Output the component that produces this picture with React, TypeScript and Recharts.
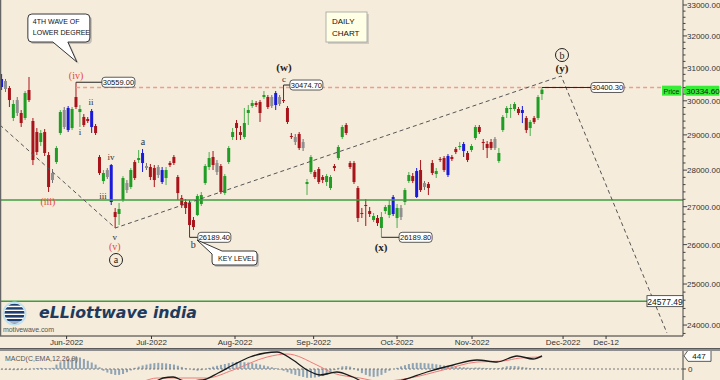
import React from "react";
import { ComposedChart, Bar, Line, XAxis, YAxis, ReferenceLine, ReferenceDot } from "recharts";

const BG = "#F5ECDB";
const SANS = "Liberation Sans, Arial, sans-serif";
const SERIF = "Liberation Serif, Times New Roman, serif";

// daily candles, left to right (index = bar number)
const opens = [
  30415, 30597, 30384, 29491, 30023, 29638, 29491, 30324, 29403, 29082,
  28795, 29082, 28424, 27920, 28227, 29054, 29726, 29140, 29198, 30113,
  29667, 29520, 29461, 29228, 29257, 28368, 27698, 28003, 28143, 26857,
  26804, 27180, 27643, 27533, 28227, 28283, 28199, 28115, 28087, 28059,
  28087, 27671, 27781, 28199, 28368, 27809, 27234, 27126, 27099, 26644,
  26777, 27072, 27643, 28087, 28368, 28199, 28115, 27369, 28227, 28938,
  29344, 29082, 28938, 29638, 29845, 29934, 29964, 30113, 30113, 30113,
  29875, 30113, 30023, 29786, 28967, 28938, 29025, 28795, 27616, 27948,
  27948, 28031, 27809, 27671, 27506, 28115, 28339, 28938, 29286, 28199,
  28199, 27506, 26831, 27045, 26884, 26644, 26697, 26433, 26884, 26777,
  26804, 26697, 26965, 27126, 27698, 27836, 27975, 28003, 27643, 27616,
  28199, 27892, 28311, 28339, 27864, 28368, 28595, 28652, 28538, 28481,
  28566, 28910, 29228, 28795, 28738, 28795, 28881, 28255, 29140, 29638,
  29756, 29756, 29756, 29638, 29491, 29198, 29491, 29491, 30203,
];
const highs = [
  30811, 30658, 30445, 30023, 30113, 29726, 30294, 30719, 29491, 29198,
  29140, 29169, 28509, 28031, 28680, 29726, 29815, 29845, 29815, 30559,
  29875, 29608, 29520, 29756, 29315, 28424, 28003, 28059, 28171, 26965,
  27099, 27836, 27726, 28059, 28283, 28566, 28595, 28199, 28171, 28143,
  28143, 28087, 28087, 28255, 28424, 27864, 27315, 27207, 27180, 26724,
  27342, 27397, 28171, 28509, 28538, 28283, 28171, 27892, 28680, 29198,
  29432, 29257, 29786, 29875, 30023, 29993, 30023, 30294, 30173, 30173,
  30294, 30173, 30474.7, 29845, 29054, 29025, 29082, 28881, 27754, 28424,
  28003, 28087, 27864, 27892, 27864, 28171, 28709, 29286, 29344, 28255,
  28255, 27561, 26965, 27207, 26991, 26831, 26777, 26857, 27045, 27180,
  27315, 27072, 27045, 27506, 27948, 27920, 28059, 28283, 27698, 27671,
  28283, 28059, 28368, 28396, 28452, 28424, 28652, 28795, 28795, 28538,
  28738, 29286, 29286, 28881, 28823, 28881, 28938, 28623, 29579, 29845,
  29905, 29964, 29815, 29845, 29550, 29432, 29550, 30173, 30400.3,
];
const lows = [
  30324, 30263, 29815, 29403, 29550, 29228, 29432, 29964, 28143, 28424,
  28680, 28396, 27397, 27643, 28171, 28996, 29169, 29082, 29140, 29756,
  29228, 29228, 29344, 29054, 28996, 27864, 27616, 27754, 27045, 26433,
  26512, 27126, 27369, 27478, 27726, 28199, 27948, 28003, 27726, 27533,
  27781, 27616, 27588, 28087, 28143, 27180, 26965, 26804, 26189.4, 26380,
  26750, 27018, 27588, 28003, 28003, 27864, 27342, 27315, 28171, 28852,
  28852, 28852, 28881, 29286, 29786, 29815, 29374, 30053, 29756, 29786,
  29726, 29845, 29934, 29315, 28881, 28709, 28566, 28538, 27315, 27892,
  27754, 27616, 27643, 27561, 27451, 27975, 28283, 28881, 28996, 28031,
  27616, 26591, 26697, 26486, 26724, 26591, 26486, 26189.8, 26804, 26697,
  26750, 26433, 26644, 27045, 27643, 27643, 27234, 27397, 27451, 27315,
  27864, 27781, 28227, 27948, 27809, 28255, 28452, 28566, 28368, 28227,
  28509, 28852, 29025, 28566, 28339, 28566, 28566, 28199, 29082, 29491,
  29491, 29697, 29579, 29344, 29054, 28967, 29315, 29432, 30023,
];
const closes = [
  30658, 30354, 30023, 29905, 29638, 29344, 30233, 30023, 28283, 28509,
  29054, 28481, 27533, 27726, 28623, 29667, 29228, 29786, 29756, 29815,
  29756, 29286, 29403, 29697, 29054, 27920, 27920, 27809, 27126, 26724,
  26938, 27781, 27451, 28003, 27781, 28339, 28481, 28059, 27809, 27726,
  27864, 28003, 28003, 28143, 28199, 27369, 27045, 26965, 26512, 26459,
  27288, 27315, 28115, 28339, 28143, 27948, 27397, 27836, 28623, 29082,
  29198, 28996, 29344, 29726, 29934, 29875, 29638, 30173, 29815, 29845,
  30233, 29905, 29993, 29374, 28938, 28795, 28623, 28623, 27671, 28368,
  27809, 27671, 27726, 27836, 27809, 28059, 28652, 29228, 29054, 28087,
  27671, 26697, 26804, 27018, 26804, 26750, 26565, 26724, 26991, 27045,
  27261, 26965, 26724, 27451, 27864, 27698, 27261, 27451, 27533, 27506,
  27920, 27975, 28283, 28003, 28396, 28311, 28509, 28680, 28738, 28283,
  28680, 29228, 29082, 28766, 28623, 28623, 28623, 28481, 29520, 29786,
  29786, 29905, 29638, 29726, 29140, 29374, 29374, 30113, 30334.6,
];
// bar type: g up, r down, b blue bar, k grey bar
const kinds = [
  "b", "k", "r", "g", "k", "r", "g", "r", "r", "r",
  "g", "r", "r", "k", "g", "g", "k", "b", "g", "r",
  "g", "r", "r", "b", "r", "r", "g", "k", "b", "r",
  "g", "g", "k", "g", "r", "g", "b", "k", "r", "r",
  "k", "b", "g", "r", "r", "r", "r", "r", "r", "r",
  "g", "g", "g", "g", "r", "k", "r", "g", "g", "g",
  "r", "r", "g", "g", "g", "r", "r", "g", "r", "k",
  "b", "k", "r", "r", "r", "k", "r", "k", "g", "g",
  "r", "r", "r", "g", "g", "r", "g", "g", "r", "r",
  "r", "r", "r", "r", "r", "g", "r", "g", "g", "g",
  "b", "g", "k", "g", "g", "r", "b", "r", "k", "r",
  "r", "g", "r", "r", "b", "r", "r", "g", "b", "r",
  "g", "g", "r", "r", "r", "r", "k", "g", "g", "g",
  "g", "g", "r", "b", "r", "g", "r", "g", "g",
];

// MACD(12,26,9) histogram, one value per bar
const histogram = [
  -20, -30, -30, -40, -40, -30, -30, -20, 10, 30,
  40, 30, 20, 40, 150, 230, 300, 340, 370, 400,
  390, 340, 280, 220, 150, 60, -60, -120, -170, -200,
  -200, -170, -110, -50, 40, 80, 120, 150, 180, 200,
  210, 200, 190, 170, 150, 110, 70, 30, 0, -40,
  -60, -40, -10, 40, 80, 110, 140, 170, 200, 230,
  240, 240, 230, 220, 200, 180, 150, 120, 90, 60,
  30, -20, -60, -110, -160, -200, -240, -270, -300, -300,
  -290, -270, -240, -200, -100, -40, 40, 90, 100, 80,
  30, -60, -140, -200, -250, -270, -250, -200, -130, -60,
  0, 40, 90, 130, 170, 200, 210, 210, 200, 190,
  180, 160, 140, 120, 110, 90, 80, 70, 60, 50,
  40, 50, 50, 40, 30, 20, 20, 30, 60, 90,
  100, 100, 90, 70, 50, 30, 20, 20, 30,
];
const macdIdx = [0, 8, 16, 24, 30, 36, 40, 41.2, 43.8, 46.8, 51.4, 55.3, 59.1, 63.4, 67.3, 70.3, 74.4, 78, 81.3, 85.6, 89.7, 94.1, 99.2, 102.5, 108.6, 115.3, 121.4, 126.5, 131.6, 135.7, 138];
const macdVals = [-420, -520, -640, -700, -720, -560, -380, -306, -272, -408, -374, -136, 136, 408, 544, 578, 306, -34, -204, -102, -272, -520, -480, -374, -102, 136, 306, 238, 442, 340, 447];
const signalIdx = [0, 12, 22, 30, 36, 39.7, 47.3, 52.4, 59.1, 67.8, 72.9, 80.5, 84.6, 91.5, 96.6, 104.3, 112.7, 121.4, 128, 132.4, 138];
const signalVals = [-450, -520, -600, -600, -420, -306, -306, -306, -34, 408, 510, 136, -136, -306, -420, -306, -34, 238, 272, 374, 408];

// projected wave path (dashed)
const pathIdx = [-0.43, 29, 142.9, 169.9];
const pathVals = [29286, 26433, 30750, 23810];

const monthTicks = [16.58, 38.26, 59.59, 79.67, 100.97, 120.12, 143.37, 154.35];
const monthLabels = ["Jun-2022", "Jul-2022", "Aug-2022", "Sep-2022", "Oct-2022", "Nov-2022", "Dec-2022", "Dec-12"];
const priceTicks = [24000, 25000, 26000, 27000, 28000, 29000, 30000, 31000, 32000, 33000];

const supportLevel = 27180;
const targetLevel = 24577.49;
const yTop = 30400.3;
const lastClose = 30334.6;
const macdLast = 447;

const X_DOMAIN: [number, number] = [-0.43, 174];
const Y_DOMAIN: [number, number] = [23740, 33165];

const minorTicks: number[] = [];
for (let v = 23800; v <= 33000; v += 200) minorTicks.push(v);

const candles = opens.map((o, i) => ({
  i,
  o,
  h: highs[i],
  l: lows[i],
  c: closes[i],
  k: kinds[i],
  range: [lows[i], highs[i]],
  hist: histogram[i],
}));
const macdData = macdIdx.map((i, n) => ({ i, v: macdVals[n] }));
const signalData = signalIdx.map((i, n) => ({ i, v: signalVals[n] }));
const pathData = pathIdx.map((i, n) => ({ i, v: pathVals[n] }));

const BODY: Record<string, string> = { g: "#1F9D24", r: "#A8141A", b: "#1A1ADB", k: "#8F8F8F" };
const WICK: Record<string, string> = { g: "#4DAE4D", r: "#A8141A", b: "#1A1ADB", k: "#6F6F6F" };

function Candle(props: any) {
  const { x, y, width, height, payload } = props;
  if (x == null || payload == null) return null;
  const { o, h, l, c, k } = payload;
  const top = Math.min(y, y + height);
  const hgt = Math.abs(height);
  const lh = Math.log(h);
  const span = lh - Math.log(l);
  const toY = (v: number) => (span === 0 ? top : top + (hgt * (lh - Math.log(v))) / span);
  const cx = x + width / 2;
  const bTop = toY(Math.max(o, c));
  const bBot = toY(Math.min(o, c));
  return (
    <g>
      <line x1={cx} x2={cx} y1={top} y2={top + hgt} stroke={WICK[k]} strokeWidth={1} />
      <rect x={cx - 1.5} y={bTop} width={3} height={Math.max(1, bBot - bTop)} fill={BODY[k]} />
    </g>
  );
}

function HistBar(props: any) {
  const { x, y, width, height } = props;
  if (x == null || y == null || height == null) return null;
  const top = Math.min(y, y + height);
  return <rect x={x + width / 2 - 1} y={top} width={2} height={Math.abs(height)} fill="#8DA3B6" />;
}

function PriceTick(props: any) {
  const { x, y, payload } = props;
  const v = payload.value;
  const major = priceTicks.includes(v);
  return (
    <g>
      <line x1={x} x2={x + (major ? 4 : 2.5)} y1={y} y2={y} stroke="#444" />
      {major && (
        <text x={x + 4} y={y + 3} fontSize={8} fill="#333" fontFamily={SANS}>
          {v.toFixed(2)}
        </text>
      )}
    </g>
  );
}

function MacdTick(props: any) {
  const { x, y, payload } = props;
  return (
    <g>
      <line x1={x} x2={x + 3} y1={y} y2={y} stroke="#444" />
      <text x={x + 5} y={y + 3} fontSize={8} fill="#333" fontFamily={SANS}>
        {payload.value}
      </text>
    </g>
  );
}

const note = (key: string, i: number, v: number, draw: (cx: number, cy: number) => React.ReactNode) => (
  <ReferenceDot
    key={key}
    x={i}
    y={v}
    r={0}
    ifOverflow="visible"
    shape={(p: any) => <g>{draw(p.cx, p.cy)}</g>}
  />
);

const wave = (key: string, i: number, v: number, text: string, color: string, size: number, bold = false) =>
  note(key, i, v, (cx, cy) => (
    <text x={cx} y={cy} textAnchor="middle" dominantBaseline="central" fontFamily={SERIF} fontSize={size} fontWeight={bold ? 700 : 400} fill={color}>
      {text}
    </text>
  ));

const circled = (key: string, i: number, v: number, text: string) =>
  note(key, i, v, (cx, cy) => (
    <g>
      <circle cx={cx} cy={cy} r={6.5} fill="none" stroke="#222" strokeWidth={1} />
      <text x={cx} y={cy} textAnchor="middle" dominantBaseline="central" fontFamily={SERIF} fontSize={10} fill="#222">
        {text}
      </text>
    </g>
  ));

const valueBox = (key: string, i: number, v: number, text: string) =>
  note(key, i, v, (cx, cy) => (
    <g>
      <rect x={cx} y={cy - 5} width={33} height={10} rx={3} fill="#fff" stroke="#333" strokeWidth={0.8} />
      <text x={cx + 16.5} y={cy + 0.5} textAnchor="middle" dominantBaseline="central" fontSize={7.5} fontFamily={SANS} fill="#111">
        {text}
      </text>
    </g>
  ));

const connector = (key: string, i1: number, i2: number, v: number) => (
  <ReferenceLine key={key} segment={[{ x: i1, y: v }, { x: i2, y: v }]} stroke="#222" strokeWidth={1} ifOverflow="visible" />
);

const RED = "#E5483C";
const INK = "#222";
const SMALL = "#333";

export default function App() {
  return (
    <div style={{ position: "fixed", left: 0, top: 0, width: 720, height: 380, overflow: "hidden", background: BG }}>
      <div style={{ position: "absolute", left: 0, top: 0 }}>
        <ComposedChart width={720} height={348} data={candles} margin={{ top: 0, right: 0, bottom: 0, left: 0 }}>
          <XAxis
            type="number"
            dataKey="i"
            domain={X_DOMAIN}
            allowDataOverflow
            ticks={monthTicks}
            interval={0}
            height={12}
            tickSize={3}
            tickMargin={0}
            tick={{ fontSize: 8, fill: "#333", fontFamily: SANS }}
            tickFormatter={(v: number) => monthLabels[monthTicks.indexOf(v)] ?? ""}
            axisLine={{ stroke: "#333" }}
            tickLine={{ stroke: "#333" }}
          />
          <YAxis
            orientation="right"
            scale="log"
            domain={Y_DOMAIN}
            allowDataOverflow
            width={37}
            ticks={minorTicks}
            interval={0}
            tickSize={0}
            tickMargin={0}
            tickLine={false}
            axisLine={{ stroke: "#444" }}
            tick={PriceTick}
          />
          <ReferenceLine y={supportLevel} stroke="#3E9E3E" strokeWidth={1.5} />
          <ReferenceLine y={targetLevel} stroke="#3E9E3E" strokeWidth={1.5} />
          <ReferenceLine segment={[{ x: 19, y: yTop }, { x: 174, y: yTop }]} stroke="#F29A90" strokeDasharray="4 3" strokeWidth={1.3} />
          <Line data={pathData} dataKey="v" type="linear" stroke="#555" strokeWidth={1} strokeDasharray="4 3" dot={false} activeDot={false} isAnimationActive={false} />
          <Bar dataKey="range" barSize={3} shape={Candle} isAnimationActive={false} />

          {connector("c1", 19, 25.6, highs[19])}
          {connector("c2", 72, 73.6, highs[72])}
          {connector("c3", 48, 50.1, lows[48])}
          {connector("c4", 97, 101.5, lows[97])}
          {connector("c5", 138, 150.5, highs[138])}
          {valueBox("v1", 25.6, highs[19], "30559.00")}
          {valueBox("v2", 73.6, highs[72], "30474.70")}
          {valueBox("v3", 50.1, lows[48], "26189.40")}
          {valueBox("v4", 101.5, lows[97], "26189.80")}
          {valueBox("v5", 150.5, highs[138], "30400.30")}

          {wave("w1", 19, 30780, "(iv)", RED, 10)}
          {wave("w2", 22.8, 29964, "ii", SMALL, 9)}
          {wave("w3", 20, 29082, "i", SMALL, 9)}
          {wave("w4", 11.8, 27153, "(iii)", RED, 10)}
          {wave("w5", 27.9, 28368, "iv", SMALL, 9)}
          {wave("w6", 25.9, 27288, "iii", SMALL, 9)}
          {wave("w7", 36.1, 28795, "a", SMALL, 10)}
          {wave("w8", 28.9, 26200, "v", SMALL, 9)}
          {wave("w9", 28.9, 25939, "(v)", RED, 10)}
          {circled("w10", 29.2, 25605, "a")}
          {wave("w11", 48.9, 25990, "b", SMALL, 10)}
          {wave("w12", 72.1, 30658, "c", SMALL, 9)}
          {wave("w13", 72.1, 31026, "(w)", INK, 11, true)}
          {wave("w14", 96.9, 25939, "(x)", INK, 11, true)}
          {wave("w15", 143.1, 30995, "(y)", INK, 11, true)}
          {circled("w16", 143.1, 31398, "b")}

          {note("call1", 19.2, 31180, (cx, cy) => {
            const L = cx - 49, R = cx + 13, T = cy - 48, B = cy - 20, r = 4;
            const d = `M${L + r},${T} H${R - r} Q${R},${T} ${R},${T + r} V${B - r} Q${R},${B} ${R - r},${B} H${cx - 9} L${cx},${cy} L${cx - 24},${B} H${L + r} Q${L},${B} ${L},${B - r} V${T + r} Q${L},${T} ${L + r},${T} Z`;
            return (
              <g>
                <path d={d} transform="translate(2,2)" fill="#9a9a9a" opacity={0.55} />
                <path d={d} fill="#fff" stroke="#222" strokeWidth={0.9} />
                <text x={L + 5} y={T + 10} fontSize={7} fontFamily={SANS} fill="#111">4TH WAVE OF</text>
                <text x={L + 5} y={T + 21} fontSize={7} fontFamily={SANS} fill="#111">LOWER DEGREE</text>
              </g>
            );
          })}
          {note("call2", 49.9, 26119, (cx, cy) => {
            const L = cx + 15, R = cx + 60, T = cy + 11, B = cy + 25, r = 3;
            const d = `M${L + 10},${T} H${R - r} Q${R},${T} ${R},${T + r} V${B - r} Q${R},${B} ${R - r},${B} H${L + r} Q${L},${B} ${L},${B - r} V${T + 3} L${cx},${cy} Z`;
            return (
              <g>
                <path d={d} transform="translate(2,2)" fill="#9a9a9a" opacity={0.55} />
                <path d={d} fill="#fff" stroke="#222" strokeWidth={0.9} />
                <text x={L + 6} y={T + 10} fontSize={7} fontFamily={SANS} fill="#111">KEY LEVEL</text>
              </g>
            );
          })}
          {note("tgt", 164.8, targetLevel, (cx, cy) => (
            <g>
              <rect x={cx} y={cy - 5.5} width={36} height={11} fill="#fff" stroke="#333" strokeWidth={0.8} />
              <text x={cx + 18} y={cy + 0.5} textAnchor="middle" dominantBaseline="central" fontSize={8.5} fontFamily={SANS} fill="#111">
                24577.49
              </text>
            </g>
          ))}
          {note("price", 174, lastClose, (cx, cy) => (
            <g>
              <rect x={cx - 21} y={cy - 4} width={19} height={10} fill="#35EE35" />
              <text x={cx - 11.5} y={cy + 1.5} textAnchor="middle" dominantBaseline="central" fontSize={7} fontFamily={SANS} fill="#113311">
                Price
              </text>
              <path d={`M${cx},${cy + 1} L${cx + 3},${cy - 4} H${cx + 36} V${cy + 6} H${cx + 3} Z`} fill="#35EE35" />
              <text x={cx + 20} y={cy + 1.5} textAnchor="middle" dominantBaseline="central" fontSize={8} fontFamily={SANS} fill="#111">
                30334.60
              </text>
            </g>
          ))}
        </ComposedChart>
      </div>

      <div style={{ position: "absolute", left: 0, top: 348, width: 720, height: 3, background: "#8E8E8E", borderTop: "1px solid #5a5a5a", boxSizing: "border-box" }} />

      <div style={{ position: "absolute", left: 0, top: 351 }}>
        <ComposedChart width={720} height={60} data={candles} margin={{ top: 0, right: 0, bottom: 0, left: 0 }}>
          <XAxis type="number" dataKey="i" domain={X_DOMAIN} allowDataOverflow hide />
          <YAxis
            orientation="right"
            domain={[-1428, 612]}
            allowDataOverflow
            width={37}
            ticks={[0]}
            tickSize={0}
            tickMargin={0}
            tickLine={false}
            axisLine={{ stroke: "#444" }}
            tick={MacdTick}
          />
          <ReferenceLine y={0} stroke="#777" strokeDasharray="2 2" />
          <Bar dataKey="hist" barSize={2} fill="#8DA3B6" shape={HistBar} isAnimationActive={false} />
          <Line data={signalData} dataKey="v" type="monotone" stroke="#F07A78" strokeWidth={1} dot={false} activeDot={false} isAnimationActive={false} />
          <Line data={macdData} dataKey="v" type="monotone" stroke="#1A1A1A" strokeWidth={1.3} dot={false} activeDot={false} isAnimationActive={false} />
          {note("m447", 174, macdLast, (cx, cy) => (
            <g>
              <path d={`M${cx + 1},${cy} L${cx + 5},${cy - 5.5} H${cx + 28} V${cy + 5.5} H${cx + 5} Z`} fill="#fff" stroke="#333" strokeWidth={0.8} />
              <text x={cx + 16} y={cy + 0.5} textAnchor="middle" dominantBaseline="central" fontSize={8} fontFamily={SANS} fill="#111">
                {macdLast}
              </text>
            </g>
          ))}
        </ComposedChart>
      </div>

      <svg width={720} height={380} style={{ position: "absolute", left: 0, top: 0, pointerEvents: "none" }}>
        <line x1={0.5} x2={0.5} y1={0} y2={336} stroke="#666" strokeWidth={1.5} />
        <rect x={328} y={14} width={41} height={30} fill="#9a9a9a" opacity={0.4} />
        <rect x={326} y={12} width={41} height={30} fill="#FFFFE6" stroke="#A0A0A0" strokeWidth={0.8} />
        <text x={332} y={24} fontSize={8} fontFamily={SANS} fill="#111">DAILY</text>
        <text x={332} y={36} fontSize={8} fontFamily={SANS} fill="#111">CHART</text>

        <defs>
          <clipPath id="globe">
            <circle cx={14.5} cy={313.5} r={10} />
          </clipPath>
        </defs>
        <circle cx={14.5} cy={313.5} r={12} fill="#BDE2F2" />
        <circle cx={14.5} cy={313.5} r={10.3} fill="#fff" />
        <g clipPath="url(#globe)" fill="#1E3F6E">
          <rect x={0} y={303.5} width={30} height={2.2} />
          <rect x={0} y={307.2} width={30} height={2.4} />
          <rect x={0} y={311} width={30} height={2.6} />
          <rect x={0} y={315} width={30} height={2.6} />
          <rect x={0} y={319} width={30} height={2.4} />
          <rect x={0} y={322.6} width={30} height={2.2} />
        </g>
        <text x={39} y={318} fontSize={15} fontFamily="DejaVu Sans, sans-serif" fontWeight={700} fontStyle="italic" fill="#1E3A5E" textLength={158} lengthAdjust="spacingAndGlyphs">
          eLLiottwave india
        </text>
        <text x={3} y={332} fontSize={7} fontFamily={SANS} fill="#555" textLength={51}>motivewave.com</text>
        <text x={5} y={361} fontSize={7} fontFamily={SANS} fill="#555">MACD(C,EMA,12,26,9)</text>
      </svg>
    </div>
  );
}
